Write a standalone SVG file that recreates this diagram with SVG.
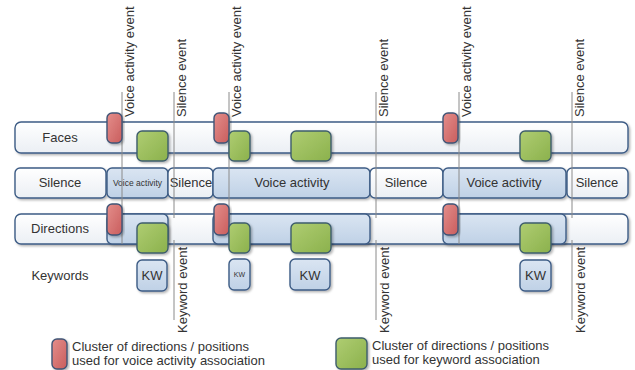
<svg xmlns="http://www.w3.org/2000/svg" width="635" height="370" viewBox="0 0 635 370">
<defs>
<linearGradient id="gWhite" x1="0" y1="0" x2="0" y2="1"><stop offset="0" stop-color="#ffffff"/><stop offset="1" stop-color="#ebeff4"/></linearGradient>
<linearGradient id="gBlue" x1="0" y1="0" x2="0" y2="1"><stop offset="0" stop-color="#dae5f2"/><stop offset="1" stop-color="#bfd1e6"/></linearGradient>
<linearGradient id="gRed" x1="0" y1="0" x2="1" y2="1"><stop offset="0" stop-color="#e48e8b"/><stop offset="1" stop-color="#c95d5d"/></linearGradient>
<linearGradient id="gGreen" x1="0" y1="0" x2="1" y2="1"><stop offset="0" stop-color="#afcd72"/><stop offset="1" stop-color="#8bb14c"/></linearGradient>
<filter id="sh" x="-20%" y="-20%" width="140%" height="160%"><feDropShadow dx="1.5" dy="1.5" stdDeviation="1.2" flood-color="#000" flood-opacity="0.3"/></filter>
</defs>
<style>
text{font-family:"Liberation Sans",Arial,sans-serif;fill:#333333}
.lbl{font-size:13px;text-anchor:middle}
.ev{font-size:13px}
.w{fill:url(#gWhite);stroke:#3d5c85;stroke-width:1.4;filter:url(#sh)}
.b{fill:url(#gBlue);stroke:#3d5c85;stroke-width:1.4;filter:url(#sh)}
.r{fill:url(#gRed);stroke:#3f5476;stroke-width:1.4;filter:url(#sh)}
.g{fill:url(#gGreen);stroke:#3e5d6c;stroke-width:1.4;filter:url(#sh)}
.ln{stroke:#8a8a8a;stroke-width:1;fill:none}
</style>

<g id="faces">
<rect class="w" x="15" y="122" width="613" height="31" rx="6"/>
<text class="lbl" x="60" y="142">Faces</text>
</g>

<g id="silence-row">
<rect class="w" x="15" y="168" width="91" height="30" rx="5"/>
<text class="lbl" x="60" y="187">Silence</text>
<rect class="b" x="107" y="168" width="61" height="30" rx="5"/>
<text class="lbl" x="137.5" y="186" style="font-size:8.5px">Voice activity</text>
<rect class="w" x="168" y="168" width="45" height="30" rx="5"/>
<text class="lbl" x="191" y="187">Silence</text>
<rect class="b" x="213" y="168" width="157" height="30" rx="5"/>
<text class="lbl" x="292" y="187">Voice activity</text>
<rect class="w" x="370" y="168" width="73" height="30" rx="5"/>
<text class="lbl" x="406" y="187">Silence</text>
<rect class="b" x="443" y="168" width="123" height="30" rx="5"/>
<text class="lbl" x="504" y="187">Voice activity</text>
<rect class="w" x="567" y="168" width="61" height="30" rx="5"/>
<text class="lbl" x="597" y="187">Silence</text>
</g>

<g id="directions">
<rect class="w" x="15" y="214" width="613" height="30" rx="6"/>
<rect class="b" x="107" y="214" width="61" height="30" rx="5"/>
<rect class="b" x="213" y="214" width="157" height="30" rx="5"/>
<rect class="b" x="443" y="214" width="123" height="30" rx="5"/>
<text class="lbl" x="60" y="233">Directions</text>
</g>

<g id="keywords-label">
<text class="lbl" x="60" y="279.5">Keywords</text>
</g>

<g id="connectors">
<line class="ln" x1="122" y1="92" x2="122" y2="244"/>
<line class="ln" x1="229" y1="92" x2="229" y2="244"/>
<line class="ln" x1="459" y1="92" x2="459" y2="244"/>
<line class="ln" x1="174" y1="92" x2="174" y2="218"/>
<line class="ln" x1="376" y1="92" x2="376" y2="218"/>
<line class="ln" x1="572" y1="92" x2="572" y2="218"/>
<line class="ln" x1="174" y1="240" x2="174" y2="320"/>
<line class="ln" x1="376" y1="240" x2="376" y2="320"/>
<line class="ln" x1="572" y1="240" x2="572" y2="320"/>
</g>

<g id="event-labels">
<text class="ev" transform="translate(134,117) rotate(-90)">Voice activity event</text>
<text class="ev" transform="translate(241,117) rotate(-90)">Voice activity event</text>
<text class="ev" transform="translate(471,117) rotate(-90)">Voice activity event</text>
<text class="ev" transform="translate(186,117) rotate(-90)">Silence event</text>
<text class="ev" transform="translate(388,117) rotate(-90)">Silence event</text>
<text class="ev" transform="translate(584,117) rotate(-90)">Silence event</text>
<text class="ev" transform="translate(187,333) rotate(-90)">Keyword event</text>
<text class="ev" transform="translate(389,333) rotate(-90)">Keyword event</text>
<text class="ev" transform="translate(585,333) rotate(-90)">Keyword event</text>
</g>

<g id="voice-clusters">
<rect class="r" x="107" y="113" width="15" height="30" rx="5"/>
<rect class="r" x="214" y="113" width="15" height="30" rx="5"/>
<rect class="r" x="443" y="113" width="15" height="30" rx="5"/>
<rect class="r" x="107" y="204" width="15" height="31" rx="5"/>
<rect class="r" x="214" y="204" width="15" height="31" rx="5"/>
<rect class="r" x="443" y="204" width="15" height="31" rx="5"/>
</g>

<g id="keyword-clusters">
<rect class="g" x="137" y="131" width="31" height="30" rx="5"/>
<rect class="g" x="229" y="131" width="21" height="30" rx="5"/>
<rect class="g" x="291" y="131" width="40" height="30" rx="5"/>
<rect class="g" x="520" y="131" width="31" height="30" rx="5"/>
<rect class="g" x="137" y="223" width="31" height="30" rx="5"/>
<rect class="g" x="229" y="223" width="21" height="30" rx="5"/>
<rect class="g" x="291" y="223" width="40" height="30" rx="5"/>
<rect class="g" x="520" y="223" width="31" height="30" rx="5"/>
</g>

<g id="kw-boxes">
<rect class="b" x="137" y="260" width="30" height="31" rx="5"/>
<text class="lbl" x="152" y="280">KW</text>
<rect class="b" x="229" y="259" width="21" height="31" rx="5"/>
<text class="lbl" x="239.5" y="277" style="font-size:7px">KW</text>
<rect class="b" x="290" y="259" width="40" height="31" rx="5"/>
<text class="lbl" x="310" y="279.5">KW</text>
<rect class="b" x="520" y="260" width="31" height="31" rx="5"/>
<text class="lbl" x="535.5" y="280">KW</text>
</g>

<g id="legend-voice">
<rect class="r" x="52" y="339" width="15" height="30" rx="5"/>
<text class="ev" x="72" y="351">Cluster of directions / positions</text>
<text class="ev" x="72" y="365">used for voice activity association</text>
</g>

<g id="legend-keyword">
<rect class="g" x="336" y="338" width="31" height="31" rx="5"/>
<text class="ev" x="372" y="350">Cluster of directions / positions</text>
<text class="ev" x="372" y="364">used for keyword association</text>
</g>
</svg>
